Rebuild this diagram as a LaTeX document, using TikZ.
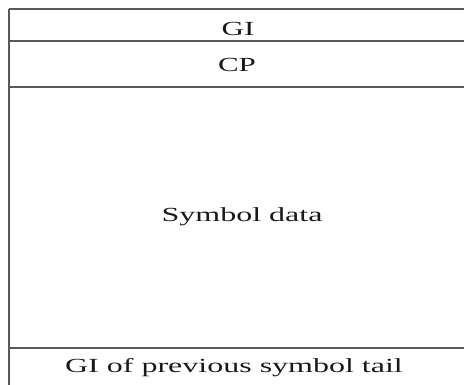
\documentclass[tikz,border=0pt]{standalone}
\usepackage{fontspec}
\setmainfont{Liberation Serif}
\begin{document}
\begin{tikzpicture}[x=1pt,y=-1pt,
  rowline/.style={draw=black!65, line width=1.6pt},
  sideline/.style={draw=black!65, line width=2.4pt},
  lbl/.style={anchor=base, inner sep=0pt, text=black!90, font=\fontsize{20}{24}\selectfont}]
\useasboundingbox (0,0) rectangle (464,385);
\coordinate (tl) at (9,8.8);
\coordinate (bl) at (9,385);
\coordinate (tr) at (464,8.8);
\coordinate (l1) at (9,41.3);   \coordinate (r1) at (464,41.3);
\coordinate (l2) at (9,87);     \coordinate (r2) at (464,87);
\coordinate (l3) at (9,348.3);  \coordinate (r3) at (464,348.3);
\draw[rowline] (tl) -- (tr);
\draw[rowline] (l1) -- (r1);
\draw[rowline] (l2) -- (r2);
\draw[rowline] (l3) -- (r3);
\draw[sideline] (tl) -- (bl);
\node[lbl] (gi) at (238,35.7) {\scalebox{1.55}[1]{GI}};
\node[lbl] (cp) at (237,71.7) {\scalebox{1.55}[1]{CP}};
\node[lbl] (sd) at (242,222) {\scalebox{1.6}[1]{Symbol data}};
\node[lbl] (tail) at (234,373) {\scalebox{1.6}[1]{GI of previous symbol tail}};
\end{tikzpicture}
\end{document}
